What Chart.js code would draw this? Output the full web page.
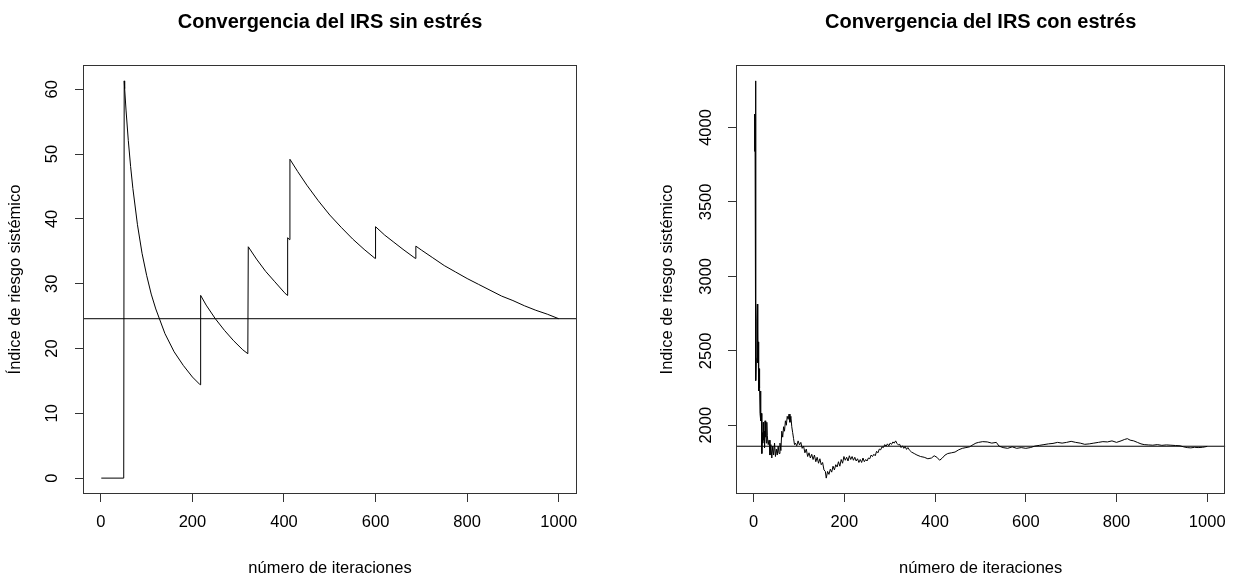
<!DOCTYPE html>
<html><head><meta charset="utf-8">
<script src="https://cdn.jsdelivr.net/npm/chart.js@4.4.0/dist/chart.umd.min.js"></script>
<style>
html,body{margin:0;padding:0;background:#fff;}
#wrap{position:relative;width:1237px;height:578px;overflow:hidden;background:#fff;}
canvas{position:absolute;top:0;}
</style></head><body>
<div id="wrap">
<canvas id="c1" width="618" height="578" style="left:0px"></canvas>
<canvas id="c2" width="619" height="578" style="left:618px"></canvas>
</div>
<script>
// ---- data ----
const iterTicks = [0, 200, 400, 600, 800, 1000];
const sinTicks = [0, 10, 20, 30, 40, 50, 60];
const conTicks = [2000, 2500, 3000, 3500, 4000];

const sinIter = [1, 50, 51, 52, 55, 60, 65, 70, 80, 90, 100, 110, 120, 140, 160, 180, 200, 217, 218, 230,
  250, 270, 290, 310, 321, 322, 340, 360, 380, 400, 407, 408, 412, 413, 430, 450, 475, 500, 525, 550,
  575, 599, 600, 620, 640, 660, 687, 688, 700, 725, 750, 775, 800, 825, 850, 875, 900, 925, 950, 975, 1000];
const sinIRS = [0, 0, 61.3, 60.1, 56.8, 52.1, 48.1, 44.7, 39.1, 34.7, 31.3, 28.4, 26.1, 22.3, 19.5, 17.4, 15.6, 14.4, 28.2, 26.7,
  24.6, 22.8, 21.2, 19.8, 19.2, 35.7, 33.8, 31.9, 30.3, 28.7, 28.2, 37.1, 36.8, 49.2, 47.3, 45.2, 42.8, 40.6, 38.7, 36.9,
  35.3, 33.9, 38.8, 37.5, 36.4, 35.3, 33.9, 35.8, 35.2, 34.0, 32.8, 31.8, 30.8, 29.9, 29.0, 28.1, 27.4, 26.6, 25.9, 25.3, 24.6];
const sinMean = 24.6;

const conIter = [
  1, 2, 3, 4, 5, 6, 7, 8, 9, 10,
  11, 12, 13, 14, 15, 16, 17, 18, 19, 20,
  21, 22, 23, 24, 25, 26, 27, 28, 29, 30,
  32, 34, 36, 38, 40, 42, 44, 46, 48, 50,
  52, 54, 56, 58, 60, 62, 64, 66, 68, 70,
  72, 74, 76, 78, 80, 82, 84, 86, 88, 90,
  92, 95, 98, 101, 104, 107, 110, 113, 116, 119,
  122, 125, 128, 131, 134, 137, 140, 143, 146, 149,
  152, 155, 158, 160, 163, 166, 169, 172, 175, 178,
  181, 184, 187, 190, 193, 196, 199, 202, 205, 208,
  211, 214, 217, 220, 223, 226, 229, 232, 235, 238,
  241, 244, 247, 250, 253, 256, 259, 262, 265, 268,
  271, 274, 277, 280, 283, 286, 289, 292, 295, 298,
  301, 304, 307, 310, 313, 316, 319, 322, 325, 328,
  331, 334, 337, 340, 343,
  348, 354, 360, 368, 376, 384, 392, 398, 404, 410,
  416, 422, 428, 436, 444, 452, 460, 468, 476, 484,
  490, 496, 505, 515, 525, 535, 541, 550, 560, 570,
  580, 590, 600, 610, 620, 630, 640, 650, 660, 670,
  680, 690, 700, 710, 720, 730, 740, 750, 760, 770,
  780, 790, 800, 810, 818, 824, 830, 838, 846, 854,
  861, 870, 880, 890, 900, 910, 920, 930, 940, 948,
  956, 964, 972, 980, 990, 1000];
const conIRS = [
  3840, 4090, 4040, 4313, 2300, 2450, 2700, 2814, 2420, 2560,
  2230, 2380, 2250, 2080, 2230, 2030, 2080, 1810, 1950, 1880,
  2020, 1900, 1960, 1850, 2030, 1920, 1980, 1880, 2020, 1930,
  1870, 1900, 1800, 1870, 1780, 1860, 1800, 1880, 1790, 1840,
  1800, 1860, 1810, 1880, 1830, 1960, 1920, 1990, 1960, 2030,
  2000, 2060, 2040, 2075, 2020, 2060, 1990, 1950, 1910, 1870,
  1880, 1862, 1895, 1868, 1885, 1845, 1860, 1815, 1840, 1790,
  1815, 1780, 1805, 1770, 1800, 1755, 1785, 1745, 1775, 1735,
  1750, 1700, 1690, 1645, 1690, 1670, 1705, 1685, 1725, 1700,
  1735, 1720, 1755, 1725, 1770, 1745, 1790, 1765, 1785, 1760,
  1795, 1770, 1790, 1765, 1785, 1760, 1775, 1750, 1770, 1750,
  1780, 1755, 1770, 1760, 1780, 1775, 1800, 1790, 1805, 1795,
  1825, 1815, 1840, 1835, 1855, 1850, 1870, 1860, 1875, 1862,
  1880, 1872, 1888, 1880, 1895, 1878, 1868, 1872, 1850, 1862,
  1845, 1858, 1838, 1850, 1835,
  1820, 1810, 1800, 1790, 1785, 1775, 1780, 1795, 1785, 1765,
  1780, 1800, 1810, 1815, 1820, 1835, 1845, 1850, 1855, 1870,
  1880, 1885, 1890, 1888, 1880, 1885, 1860, 1850, 1845, 1855,
  1845, 1850, 1845, 1850, 1860, 1865, 1870, 1875, 1878, 1885,
  1880, 1885, 1892, 1885, 1880, 1872, 1875, 1880, 1885, 1890,
  1888, 1895, 1885, 1895, 1905, 1910, 1900, 1895, 1885, 1875,
  1870, 1868, 1866, 1870, 1865, 1868, 1866, 1864, 1862, 1855,
  1850, 1848, 1852, 1850, 1852, 1858];
const conMean = 1859;

const xLabel = 'número de iteraciones';
const titleSin = 'Convergencia del IRS sin estrés';
const titleCon = 'Convergencia del IRS con estrés';
const yLabelSin = 'Índice de riesgo sistémico';
const yLabelCon = 'Indice de riesgo sistémico';

// ---- drawing ----
const FONT = '"Liberation Sans", Arial, Helvetica, sans-serif';
const FS = 16.5;
Chart.defaults.font.family = FONT;
Chart.defaults.color = '#000';

// R-style box around the plot region + rotated y tick labels (positions from the y scale)
const rPlugin = {
  id: 'rstyle',
  afterDatasetsDraw(chart, args, opts) {
    const a = chart.chartArea, ctx = chart.ctx;
    ctx.save();
    ctx.strokeStyle = '#333';
    ctx.lineWidth = 1;
    ctx.strokeRect(Math.round(a.left) + 0.5, Math.round(a.top) + 0.5,
      Math.round(a.right - a.left) - 1, Math.round(a.bottom - a.top) - 1);
    const ys = chart.scales.y;
    ctx.fillStyle = '#000';
    ctx.font = FS + 'px ' + FONT;
    ctx.textAlign = 'center';
    ctx.textBaseline = 'middle';
    ys.ticks.forEach(t => {
      const py = ys.getPixelForValue(t.value);
      ctx.save();
      ctx.translate(a.left - opts.labelDist, py);
      ctx.rotate(-Math.PI / 2);
      ctx.fillText(String(t.value), 0, 0);
      ctx.restore();
    });
    ctx.restore();
  }
};

function rRange(arr) {
  const mn = Math.min(...arr), mx = Math.max(...arr);
  const e = (mx - mn) * 0.04;
  return [mn - e, mx + e];
}

function makeChart(id, xs, ys, hval, yTicks, title, ylab, g) {
  const [xmin, xmax] = rRange(xs);
  const [ymin, ymax] = rRange(ys);
  const pts = xs.map((x, i) => ({x: x, y: ys[i]}));
  return new Chart(document.getElementById(id), {
    type: 'line',
    data: {
      datasets: [
        {data: pts, borderColor: '#000', borderWidth: 1, pointRadius: 0, tension: 0, fill: false},
        {data: [{x: xmin, y: hval}, {x: xmax, y: hval}], borderColor: '#000', borderWidth: 1, pointRadius: 0, tension: 0, fill: false}
      ]
    },
    options: {
      responsive: false, animation: false, devicePixelRatio: 1,
      layout: {padding: {left: 0, right: g.padRight, top: 0, bottom: 0}},
      plugins: {
        legend: {display: false}, tooltip: {enabled: false},
        title: {display: true, text: title, fullSize: false, color: '#000',
          font: {size: 20, weight: 'bold', family: FONT}, padding: {top: 10, bottom: 31}},
        rstyle: {labelDist: g.labelDist}
      },
      scales: {
        x: {
          type: 'linear', min: xmin, max: xmax,
          afterBuildTicks: s => { s.ticks = iterTicks.map(v => ({value: v})); },
          afterFit: s => { s.height = 84; },
          grid: {drawOnChartArea: false, drawTicks: true, tickLength: 8, color: '#333', tickColor: '#333', tickWidth: 1},
          border: {display: false},
          ticks: {font: {size: FS}, color: '#000', padding: 11, maxRotation: 0, autoSkip: false,
            callback: v => String(v)},
          title: {display: true, text: xLabel, color: '#000', font: {size: FS}, padding: {top: 0, bottom: 0}}
        },
        y: {
          type: 'linear', min: ymin, max: ymax,
          afterBuildTicks: s => { s.ticks = yTicks.map(v => ({value: v})); },
          afterFit: s => { s.width = g.areaLeft; },
          grid: {drawOnChartArea: false, drawTicks: true, tickLength: 8, color: '#333', tickColor: '#333', tickWidth: 1},
          border: {display: false},
          ticks: {display: false},
          title: {display: true, text: ylab, color: '#000', font: {size: FS}, padding: {top: g.ylabPad, bottom: 0}}
        }
      }
    },
    plugins: [rPlugin]
  });
}

makeChart('c1', sinIter, sinIRS, sinMean, sinTicks, titleSin, yLabelSin,
  {areaLeft: 83, padRight: 41, labelDist: 31, ylabPad: 6});
makeChart('c2', conIter, conIRS, conMean, conTicks, titleCon, yLabelCon,
  {areaLeft: 118, padRight: 7, labelDist: 30, ylabPad: 40});
</script>
</body></html>
